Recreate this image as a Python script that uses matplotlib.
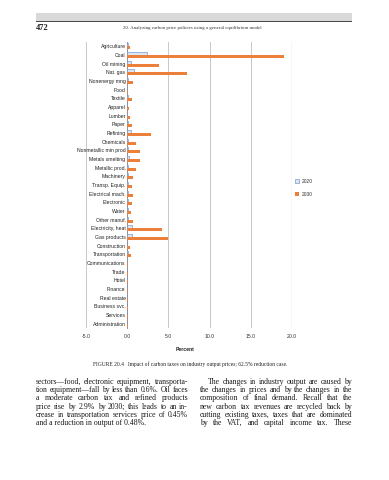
import matplotlib
matplotlib.use("Agg")
import matplotlib.pyplot as plt
from matplotlib.patches import Rectangle
import numpy as np

W, H = 389, 480
DPI = 100

categories = ["Agriculture", "Coal", "Oil mining", "Nat. gas", "Nonenergy mng",
              "Food", "Textile", "Apparel", "Lumber", "Paper", "Refining",
              "Chemicals", "Nonmetallic min prod", "Metals smelting",
              "Metallic prod.", "Machinery", "Transp. Equip.", "Electrical mach.",
              "Electronic", "Water", "Other manuf.", "Electricity, heat",
              "Gas products", "Construction", "Transportation", "Communications",
              "Trade", "Hotel", "Finance", "Real estate", "Business svc.",
              "Services", "Administration"]
v2020 = [0.05, 2.4, 0.5, 0.8, 0.1, 0.02, 0.05, 0.02, 0.03, 0.05, 0.5,
         0.1, 0.15, 0.2, 0.1, 0.05, 0.05, 0.05, 0.05, 0.05, 0.05, 0.55,
         0.6, 0.03, 0.05, 0.02, 0.03, 0.02, 0.03, 0.02, 0.03, 0.02, 0.02]
v2030 = [0.3, 19.0, 3.9, 7.2, 0.7, 0.1, 0.6, 0.2, 0.35, 0.55, 2.9,
         1.05, 1.5, 1.6, 1.05, 0.75, 0.55, 0.75, 0.6, 0.5, 0.7, 4.2,
         5.0, 0.4, 0.45, 0.05, 0.15, 0.05, 0.08, 0.05, 0.15, 0.1, 0.05]
series_names = ["2020", "2030"]
xticks = [-5, 0, 5, 10, 15, 20]
xlabel = "Percent"

header_page = "472"
header_title = "20. Analyzing carbon price policies using a general equilibrium model"
caption = "FIGURE 20.4   Impact of carbon taxes on industry output prices; 62.5% reduction case."
left_col = ["sectors\u2014food, electronic equipment, transporta-",
            "tion equipment\u2014fall by less than 0.6%. Oil faces",
            "a moderate carbon tax and refined products",
            "price rise by 2.9% by 2030; this leads to an in-",
            "crease in transportation services price of 0.45%",
            "and a reduction in output of 0.48%."]
right_col = ["The changes in industry output are caused by",
             "the changes in prices and by the changes in the",
             "composition of final demand. Recall that the",
             "new carbon tax revenues are recycled back by",
             "cutting existing taxes, taxes that are dominated",
             "by the VAT, and capital income tax. These"]

fig = plt.figure(figsize=(W / DPI, H / DPI), dpi=DPI)
fig.patch.set_facecolor("white")
renderer = fig.canvas.get_renderer()

def fx(px):
    return px / W

def fy(py):
    return 1 - py / H

# header band
fig.patches.append(Rectangle((fx(36), fy(20.5)), fx(352) - fx(36), 7.5 / H,
                             transform=fig.transFigure, facecolor="#d9d9d9",
                             edgecolor="none"))
fig.patches.append(Rectangle((fx(36), fy(21.5)), fx(352) - fx(36), 1.0 / H,
                             transform=fig.transFigure, facecolor="#4a4a4a",
                             edgecolor="none"))
fig.text(fx(36), fy(28.5), header_page, fontsize=6, family="Liberation Serif",
         fontweight="bold", va="center", ha="left", color="#222222")
fig.text(fx(123), fy(28.5), header_title, fontsize=3.5, family="Liberation Serif",
         va="center", ha="left", color="#333333")

# chart
ax = fig.add_axes([fx(86), fy(328), fx(292) - fx(86), (328 - 42) / H])
for s in ["top", "bottom", "right"]:
    ax.spines[s].set_visible(False)
ax.spines["left"].set_position(("data", 0))
ax.spines["left"].set_color("#7f7f7f")
ax.spines["left"].set_linewidth(0.6)

n = len(categories)
y = np.arange(n)
bh = 0.32
ax.barh(y - bh / 2 - 0.01, v2020, height=bh, color="#dce6f2", edgecolor="#7090c8",
        linewidth=0.45, label=series_names[0], zorder=3)
ax.barh(y + bh / 2 + 0.01, v2030, height=bh, color="#ec7f3a", edgecolor="none",
        label=series_names[1], zorder=3)
ax.set_ylim(n - 0.5, -0.5)
ax.set_xlim(xticks[0], xticks[-1])
ax.set_xticks(xticks)
ax.set_xticklabels([f"{t:.1f}" for t in xticks], fontsize=3.7,
                   family="Liberation Sans", color="#333333")
ax.tick_params(axis="x", length=0, pad=4.5)
ax.set_yticks(y)
ax.set_yticklabels(categories, fontsize=3.7, family="Liberation Sans", color="#222222")
ax.tick_params(axis="y", length=0, pad=1.2)
for t in xticks:
    if t == 0:
        continue
    ax.axvline(t, color="#d8d8d8" if t == xticks[-1] else "#bfbfbf",
               linewidth=1.0 if t == xticks[-1] else 0.6, zorder=1)
ax.set_xlabel(xlabel, fontsize=3.7, family="Liberation Sans", fontweight="bold",
              color="#222222")
ax.xaxis.set_label_coords((185 - 86) / (292 - 86), -(347 - 328) / (328 - 42))
leg = ax.legend(loc="upper left", bbox_to_anchor=((295 - 86) / (292 - 86),
                                                   1 - (179 - 42) / (328 - 42)),
                frameon=False, fontsize=3.5, handlelength=0.9, handleheight=0.9,
                handletextpad=0.5, labelspacing=1.6, borderaxespad=0, borderpad=0)
for txt in leg.get_texts():
    txt.set_family("Liberation Sans")
    txt.set_color("#333333")

# caption
fig.text(fx(93), fy(364.5), caption, fontsize=4.0, family="Liberation Serif",
         ha="left", va="center", color="#222222")

# body text (justified, font size fitted to column width)
def natural_width(line, size):
    t = fig.text(0, 0, line, fontsize=size, family="Liberation Serif")
    w = t.get_window_extent(renderer).width
    t.remove()
    return w

REF = 10.0

def line_fit(line, width):
    return REF * width / natural_width(line, REF)

all_fits = []
for col, x0, x1, ind in [(left_col, 36, 188, 0), (right_col, 200, 352, 8)]:
    for i, l in enumerate(col[:-1]):
        all_fits.append(line_fit(l, x1 - x0 - (ind if i == 0 else 0)))
base_size = float(np.median(all_fits)) * 0.96

def justify(lines, x0, x1, y0, dy, indent_first=0, ragged_last=False):
    for i, line in enumerate(lines):
        ypos = fy(y0 + i * dy)
        start = x0 + (indent_first if i == 0 else 0)
        if ragged_last and i == len(lines) - 1:
            fig.text(fx(start), ypos, line, fontsize=base_size,
                     family="Liberation Serif", ha="left", va="center",
                     color="#1a1a1a")
            continue
        size = min(base_size, line_fit(line, x1 - start) * 0.985)
        words = line.split(" ")
        objs = [fig.text(0, ypos, w, fontsize=size, family="Liberation Serif",
                         ha="left", va="center", color="#1a1a1a") for w in words]
        widths = [o.get_window_extent(renderer).width for o in objs]
        gap = (x1 - start - sum(widths)) / max(len(words) - 1, 1)
        xp = start
        for o, wdt in zip(objs, widths):
            o.set_x(fx(xp))
            xp += wdt + gap

justify(left_col, 36, 188, 382, 8.25, ragged_last=True)
justify(right_col, 200, 352, 382, 8.25, indent_first=8)

fig.savefig("out.png", dpi=DPI, facecolor="white")
